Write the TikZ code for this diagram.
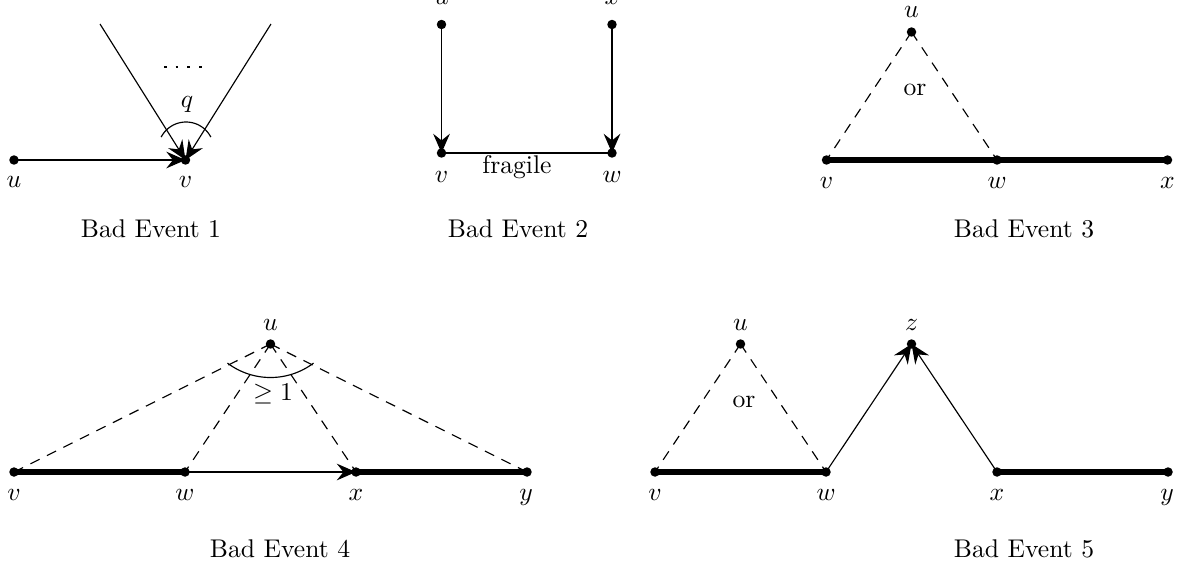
\documentclass[tikz,border=0pt]{standalone}
\usetikzlibrary{arrows.meta}
\begin{document}
\begin{tikzpicture}[x=0.3906pt,y=-0.3906pt,
  dot/.style={circle,fill=black,inner sep=0pt,minimum size=3.7pt},
  txt/.style={anchor=base,inner sep=0pt},
  arr/.style={-{Stealth[length=7.5pt,width=6.5pt,inset=2.6pt]}},
  heavy/.style={line width=2pt},
  dsh/.style={dash pattern=on 4pt off 3.2pt},
  every path/.style={line width=0.45pt}]
\useasboundingbox (0,0) rectangle (1187,569);

% ---------- Bad Event 1 ----------
\node[dot] (a-u) at (14,160) {};
\node[dot] (a-v) at (185.5,160) {};
\coordinate (a-t1) at (100,24);
\coordinate (a-t2) at (271,24);
\draw[arr] (a-u.center) -- (a-v.center);
\draw[arr] (a-t1) -- (a-v.center);
\draw[arr] (a-t2) -- (a-v.center);
\draw plot[domain=27.5:152.5,samples=40] ({186+28*cos(\x)},{150-28*sin(\x)});
\coordinate (a-d1) at (164,67);
\coordinate (a-d2) at (202,67);
\draw[dash pattern=on 1.05pt off 3.52pt] (a-d1) -- (a-d2);
\node[txt] (a-q) at (187,107) {$q$};
\node[txt] (a-ul) at (14,187) {$u$};
\node[txt] (a-vl) at (185.5,187) {$v$};
\node[txt] (a-cap) at (151,237) {Bad Event 1};

% ---------- Bad Event 2 ----------
\node[dot] (b-u) at (441.5,24.5) {};
\node[dot] (b-x) at (612,24.5) {};
\node[dot] (b-v) at (441.5,153) {};
\node[dot] (b-w) at (612,153) {};
\draw[arr] (b-u.center) -- (b-v.center);
\draw[arr] (b-x.center) -- (b-w.center);
\draw (b-v.center) -- (b-w.center);
\node[txt] (b-frag) at (517,173) {fragile};
\node[txt] (b-ul) at (441.5,4) {$u$};
\node[txt] (b-xl) at (612,4) {$x$};
\node[txt] (b-vl) at (441.5,182) {$v$};
\node[txt] (b-wl) at (612,182) {$w$};
\node[txt] (b-cap) at (518,237) {Bad Event 2};

% ---------- Bad Event 3 ----------
\node[dot] (c-u) at (911.5,32) {};
\node[dot] (c-v) at (826.5,160) {};
\node[dot] (c-w) at (997,160) {};
\node[dot] (c-x) at (1167.5,160) {};
\draw[heavy] (c-v.center) -- (c-w.center) -- (c-x.center);
\draw[dsh] (c-u.center) -- (c-v.center);
\draw[dsh] (c-u.center) -- (c-w.center);
\node[txt] (c-or) at (915,95) {or};
\node[txt] (c-ul) at (911.5,17) {$u$};
\node[txt] (c-vl) at (826.5,188) {$v$};
\node[txt] (c-wl) at (997,188) {$w$};
\node[txt] (c-xl) at (1167.5,188) {$x$};
\node[txt] (c-cap) at (1024,237) {Bad Event 3};

% ---------- Bad Event 4 ----------
\node[dot] (d-u) at (270.5,344) {};
\node[dot] (d-v) at (14,472) {};
\node[dot] (d-w) at (185,472) {};
\node[dot] (d-x) at (356,472) {};
\node[dot] (d-y) at (527,472) {};
\draw[heavy] (d-v.center) -- (d-w.center);
\draw[heavy] (d-x.center) -- (d-y.center);
\draw[arr] (d-w.center) -- (d-x.center);
\draw[dsh] (d-u.center) -- (d-v.center);
\draw[dsh] (d-u.center) -- (d-w.center);
\draw[dsh] (d-u.center) -- (d-x.center);
\draw[dsh] (d-u.center) -- (d-y.center);
\draw plot[domain=53:127,samples=40] ({270.5+71.5*cos(\x)},{306+71.5*sin(\x)});
\node[txt] (d-ge) at (273,400) {$\geq 1$};
\node[txt] (d-ul) at (270.5,330) {$u$};
\node[txt] (d-vl) at (14,500) {$v$};
\node[txt] (d-wl) at (185,500) {$w$};
\node[txt] (d-xl) at (356,500) {$x$};
\node[txt] (d-yl) at (526,500) {$y$};
\node[txt] (d-cap) at (280,557) {Bad Event 4};

% ---------- Bad Event 5 ----------
\node[dot] (e-u) at (740.5,344) {};
\node[dot] (e-z) at (911.5,344) {};
\node[dot] (e-v) at (655,472) {};
\node[dot] (e-w) at (826,472) {};
\node[dot] (e-x) at (997,472) {};
\node[dot] (e-y) at (1168,472) {};
\draw[heavy] (e-v.center) -- (e-w.center);
\draw[heavy] (e-x.center) -- (e-y.center);
\draw[dsh] (e-u.center) -- (e-v.center);
\draw[dsh] (e-u.center) -- (e-w.center);
\draw[arr] (e-w.center) -- (e-z.center);
\draw[arr] (e-x.center) -- (e-z.center);
\node[txt] (e-or) at (744,407) {or};
\node[txt] (e-ul) at (740.5,330) {$u$};
\node[txt] (e-zl) at (911.5,330) {$z$};
\node[txt] (e-vl) at (655,500) {$v$};
\node[txt] (e-wl) at (826,500) {$w$};
\node[txt] (e-xl) at (997,500) {$x$};
\node[txt] (e-yl) at (1167,500) {$y$};
\node[txt] (e-cap) at (1024,557) {Bad Event 5};
\end{tikzpicture}
\end{document}
